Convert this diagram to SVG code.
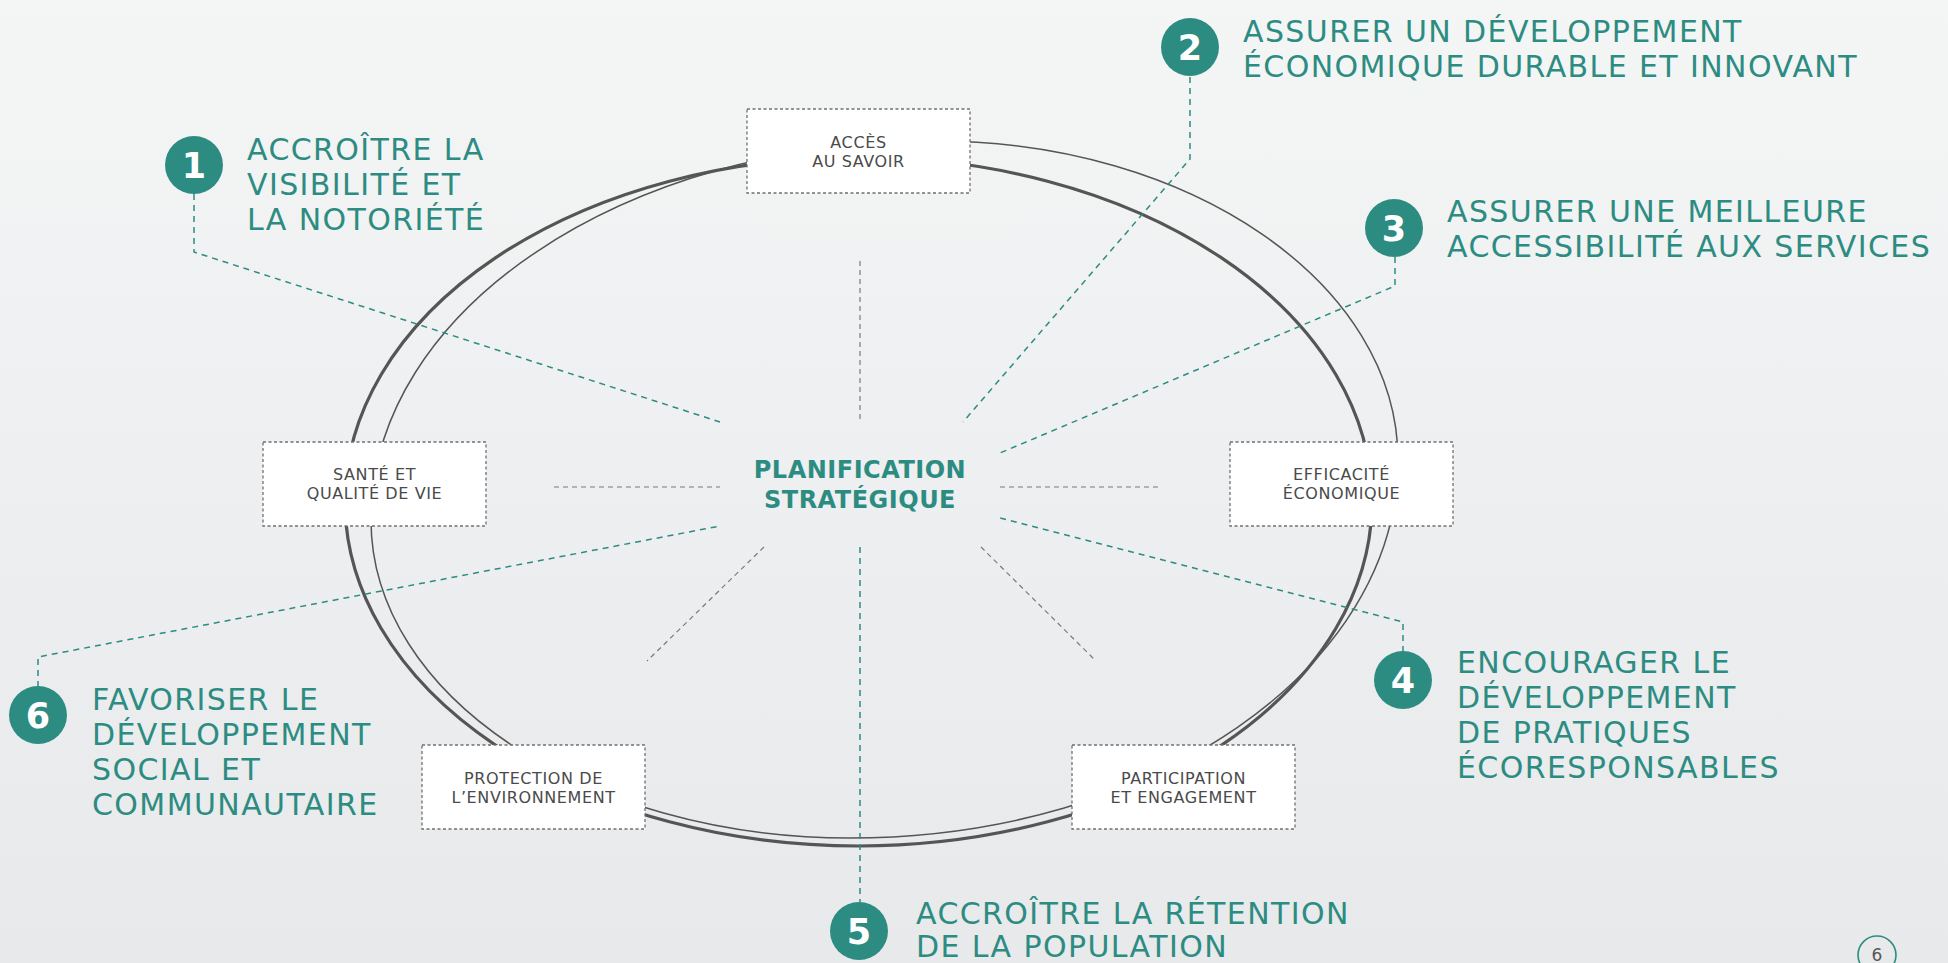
<svg xmlns="http://www.w3.org/2000/svg" width="1948" height="963" viewBox="0 0 1948 963">
<defs>
<linearGradient id="bg" x1="0" y1="0" x2="0" y2="1">
<stop offset="0" stop-color="#f4f5f5"/>
<stop offset="1" stop-color="#e8e9eb"/>
</linearGradient>
<style>
.head{font-family:"DejaVu Sans",sans-serif;font-size:30px;fill:#2d8c82;letter-spacing:1.4px}
.num{font-family:"DejaVu Sans",sans-serif;font-weight:bold;font-size:35px;fill:#fff;text-anchor:middle}
.dot{fill:#2d8c82}
.box{fill:#fff;stroke:#707070;stroke-width:1.3;stroke-dasharray:3 2.5}
.btxt{font-family:"DejaVu Sans",sans-serif;font-size:16px;fill:#4a4a4a;text-anchor:middle;letter-spacing:0.6px}
.lead{fill:none;stroke:#2d8c82;stroke-width:1.5;stroke-dasharray:6 5}
.ray{fill:none;stroke:#7a7a7a;stroke-width:1.2;stroke-dasharray:5 4}
.ring{fill:none;stroke:#555}
</style>
</defs>
<rect width="1948" height="963" fill="url(#bg)"/>
<g id="rings">
<ellipse class="ring" cx="858.5" cy="501.5" rx="513.5" ry="344.5" stroke-width="3.2"/>
<path class="ring" stroke-width="1.5" d="M935,141 C1190.7,141 1398,283.8 1398,460 C1398,668.8 1152.7,838 850,838 C585.4,838 371,695.6 371,520 C371,310.7 623.5,141 935,141 Z"/>
</g>
<g id="connectors">
<polyline class="lead" points="194,194 194,252 720,422"/>
<polyline class="lead" points="1190,77 1190,159 963,422"/>
<polyline class="lead" points="1395,257 1395,286 1000,453"/>
<polyline class="lead" points="1403,652 1403,622 1000,518"/>
<polyline class="lead" points="860,547 860,902"/>
<polyline class="lead" points="38,687 38,657 720,526"/>
<line class="ray" x1="860" y1="261" x2="860" y2="422"/>
<line class="ray" x1="554" y1="487" x2="720" y2="487"/>
<line class="ray" x1="1000" y1="487" x2="1162" y2="487"/>
<line class="ray" x1="764" y1="547" x2="647" y2="661"/>
<line class="ray" x1="981" y1="547" x2="1096" y2="661"/>
</g>
<g id="center">
<text x="860" y="478" text-anchor="middle" font-family="'DejaVu Sans',sans-serif" font-weight="bold" font-size="24" fill="#2d8c82" letter-spacing="0.5">PLANIFICATION</text>
<text x="860" y="508" text-anchor="middle" font-family="'DejaVu Sans',sans-serif" font-weight="bold" font-size="24" fill="#2d8c82" letter-spacing="0.5">STRATÉGIQUE</text>
</g>
<g id="box-acces">
<rect class="box" x="747" y="109" width="223" height="84"/>
<text class="btxt" x="858.5" y="148">ACCÈS</text>
<text class="btxt" x="858.5" y="167">AU SAVOIR</text>
</g>
<g id="box-sante">
<rect class="box" x="263" y="442" width="223" height="84"/>
<text class="btxt" x="374.5" y="480">SANTÉ ET</text>
<text class="btxt" x="374.5" y="499">QUALITÉ DE VIE</text>
</g>
<g id="box-efficacite">
<rect class="box" x="1230" y="442" width="223" height="84"/>
<text class="btxt" x="1341.5" y="480">EFFICACITÉ</text>
<text class="btxt" x="1341.5" y="499">ÉCONOMIQUE</text>
</g>
<g id="box-protection">
<rect class="box" x="422" y="745" width="223" height="84"/>
<text class="btxt" x="533.5" y="784">PROTECTION DE</text>
<text class="btxt" x="533.5" y="803">L’ENVIRONNEMENT</text>
</g>
<g id="box-participation">
<rect class="box" x="1072" y="745" width="223" height="84"/>
<text class="btxt" x="1183.5" y="784">PARTICIPATION</text>
<text class="btxt" x="1183.5" y="803">ET ENGAGEMENT</text>
</g>
<g id="obj1">
<circle class="dot" cx="194" cy="165" r="29"/>
<text class="num" x="194" y="178">1</text>
<text class="head" x="247" y="160">ACCROÎTRE LA</text>
<text class="head" x="247" y="195">VISIBILITÉ ET</text>
<text class="head" x="247" y="230">LA NOTORIÉTÉ</text>
</g>
<g id="obj2">
<circle class="dot" cx="1190" cy="47" r="29"/>
<text class="num" x="1190" y="60">2</text>
<text class="head" x="1243" y="42">ASSURER UN DÉVELOPPEMENT</text>
<text class="head" x="1243" y="77">ÉCONOMIQUE DURABLE ET INNOVANT</text>
</g>
<g id="obj3">
<circle class="dot" cx="1394" cy="228" r="29"/>
<text class="num" x="1394" y="241">3</text>
<text class="head" x="1447" y="222">ASSURER UNE MEILLEURE</text>
<text class="head" x="1447" y="257">ACCESSIBILITÉ AUX SERVICES</text>
</g>
<g id="obj4">
<circle class="dot" cx="1403" cy="680" r="29"/>
<text class="num" x="1403" y="693">4</text>
<text class="head" x="1457" y="673">ENCOURAGER LE</text>
<text class="head" x="1457" y="708">DÉVELOPPEMENT</text>
<text class="head" x="1457" y="743">DE PRATIQUES</text>
<text class="head" x="1457" y="778">ÉCORESPONSABLES</text>
</g>
<g id="obj5">
<circle class="dot" cx="859" cy="931" r="29"/>
<text class="num" x="859" y="944">5</text>
<text class="head" x="916" y="924">ACCROÎTRE LA RÉTENTION</text>
<text class="head" x="916" y="957">DE LA POPULATION</text>
</g>
<g id="obj6">
<circle class="dot" cx="38" cy="715" r="29"/>
<text class="num" x="38" y="728">6</text>
<text class="head" x="92" y="710">FAVORISER LE</text>
<text class="head" x="92" y="745">DÉVELOPPEMENT</text>
<text class="head" x="92" y="780">SOCIAL ET</text>
<text class="head" x="92" y="815">COMMUNAUTAIRE</text>
</g>
<g id="page">
<circle cx="1877" cy="955" r="19" fill="none" stroke="#2d8c82" stroke-width="1.6"/>
<text x="1877" y="961" text-anchor="middle" font-family="'DejaVu Sans',sans-serif" font-size="17" fill="#555">6</text>
</g>
</svg>
